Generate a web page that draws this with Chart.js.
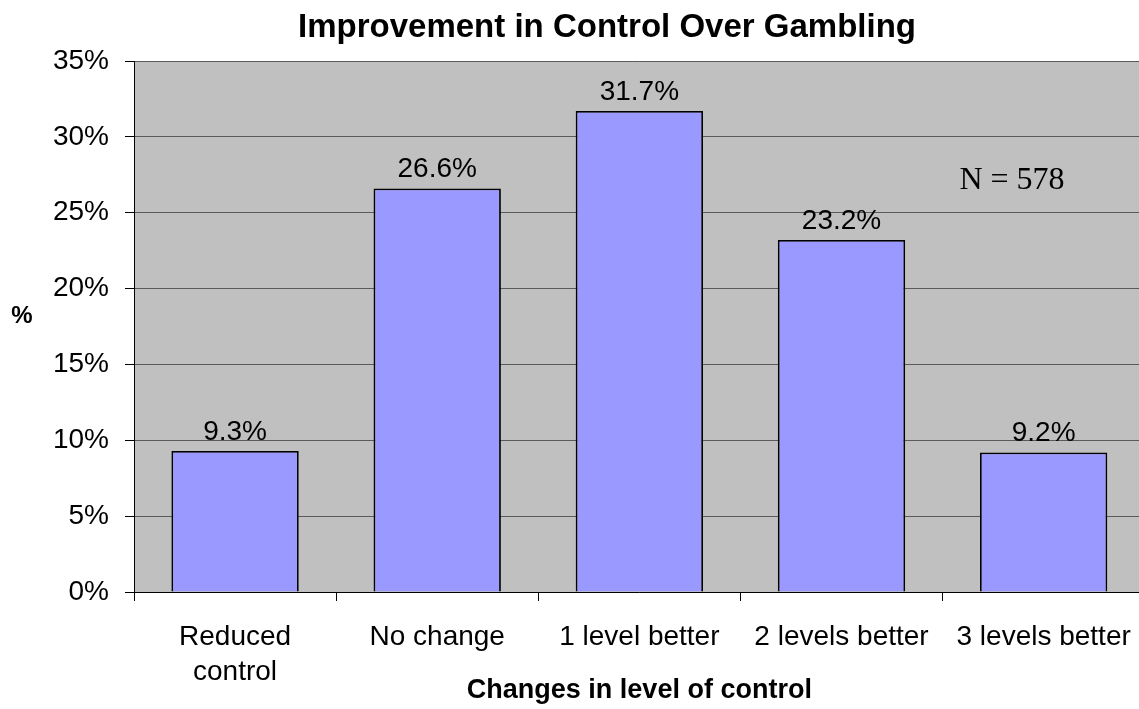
<!DOCTYPE html>
<html>
<head>
<meta charset="utf-8">
<title>Improvement in Control Over Gambling</title>
<script src="https://cdn.jsdelivr.net/npm/chart.js@4/dist/chart.umd.min.js"></script>
<style>
  html, body { margin: 0; padding: 0; background: #ffffff; overflow: hidden; }
  canvas { display: block; }
</style>
</head>
<body>
<canvas id="chart" width="1150" height="709"></canvas>
<script>
// Categories of change and the share of respondents (%) in each
const categories = [["Reduced", "control"], "No change", "1 level better", "2 levels better", "3 levels better"];
const shares = [9.3, 26.6, 31.7, 23.2, 9.2];
const yTickValues = [0, 5, 10, 15, 20, 25, 30, 35];
const chartTitle = "Improvement in Control Over Gambling";
const xTitle = "Changes in level of control";
const yTitle = "%";
const sampleNote = "N = 578";

const SANS = "'Liberation Sans', Arial, Helvetica, sans-serif";
const SERIF = "'Liberation Serif', 'Times New Roman', serif";

// Grey plot background behind the gridlines and bars
const plotBackground = {
  id: "plotBackground",
  beforeDraw(chart) {
    const { ctx, chartArea: a } = chart;
    ctx.save();
    ctx.fillStyle = "#c0c0c0";
    ctx.fillRect(a.left, a.top, a.right - a.left, a.bottom - a.top);
    ctx.restore();
  }
};

// Percentage labels above each bar
const valueLabels = {
  id: "valueLabels",
  afterDatasetsDraw(chart) {
    const { ctx } = chart;
    const meta = chart.getDatasetMeta(0);
    ctx.save();
    ctx.font = "28px " + SANS;
    ctx.fillStyle = "#000";
    ctx.textAlign = "center";
    ctx.textBaseline = "alphabetic";
    meta.data.forEach((bar, i) => {
      const v = chart.data.datasets[0].data[i];
      ctx.fillText(v.toFixed(1) + "%", bar.x, bar.y - 11);
    });
    ctx.restore();
  }
};

// Chart heading, upright "%" axis caption and the sample size note
const annotations = {
  id: "annotations",
  afterDraw(chart) {
    const { ctx } = chart;
    ctx.save();
    ctx.fillStyle = "#000";
    ctx.textAlign = "center";

    ctx.font = "bold 33px " + SANS;
    ctx.textBaseline = "alphabetic";
    ctx.fillText(chartTitle, 607, 37);

    ctx.font = "bold 24px " + SANS;
    ctx.textBaseline = "middle";
    ctx.fillText(yTitle, 22, 316);

    ctx.font = "32px " + SERIF;
    ctx.textBaseline = "middle";
    ctx.fillText(sampleNote, 1012, 181);
    ctx.restore();
  }
};

new Chart(document.getElementById("chart"), {
  type: "bar",
  data: {
    labels: categories,
    datasets: [{
      data: shares,
      backgroundColor: "#9999ff",
      borderColor: "#000000",
      borderWidth: 1.8,
      barPercentage: 0.63,
      categoryPercentage: 1.0
    }]
  },
  options: {
    responsive: false,
    animation: false,
    devicePixelRatio: 1,
    layout: { padding: { top: 61, right: 2, left: 0, bottom: 0 } },
    plugins: {
      legend: { display: false },
      title: { display: false },
      tooltip: { enabled: false }
    },
    scales: {
      x: {
        offset: true,
        grid: {
          offset: true,
          drawOnChartArea: false,
          drawTicks: true,
          tickLength: 9,
          color: "#000",
          tickColor: "#000"
        },
        border: { display: true, color: "#000", width: 1 },
        ticks: {
          color: "#000",
          font: { family: SANS, size: 28, lineHeight: 1.25 },
          padding: 19,
          maxRotation: 0,
          minRotation: 0,
          autoSkip: false
        },
        title: {
          display: true,
          text: xTitle,
          color: "#000",
          font: { family: SANS, size: 27, weight: "bold", lineHeight: 1.2 },
          padding: { top: 0, bottom: 2 }
        },
        afterFit(scale) { scale.height = 117; }
      },
      y: {
        min: 0,
        max: 35,
        afterBuildTicks(scale) {
          scale.ticks = yTickValues.map(v => ({ value: v }));
        },
        grid: {
          color: "#5a5a5a",
          lineWidth: 1,
          tickColor: "#000",
          tickLength: 9,
          drawTicks: true
        },
        border: { display: true, color: "#000", width: 1 },
        ticks: {
          color: "#000",
          font: { family: SANS, size: 28 },
          padding: 16,
          callback: v => v + "%"
        },
        afterFit(scale) { scale.width = 134; }
      }
    }
  },
  plugins: [plotBackground, valueLabels, annotations]
});
</script>
</body>
</html>
